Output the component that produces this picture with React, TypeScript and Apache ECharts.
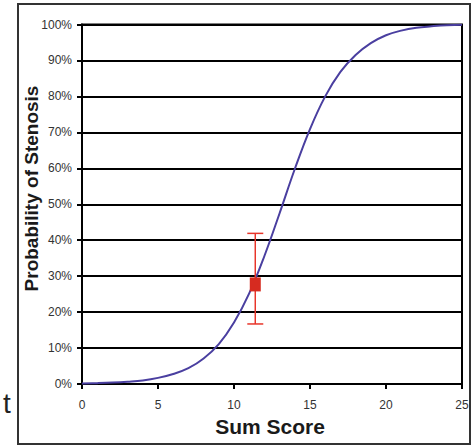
import React, { useEffect, useRef } from "react";
import * as echarts from "echarts";

// Sum score (x) and estimated probability of stenosis in % (y)
const sumScores = [0, 1, 2, 3, 4, 5, 6, 7, 8, 9, 10, 11, 12, 13, 14, 15, 16, 17, 18, 19, 20, 21, 22, 23, 24, 25];
const probability = [0.15, 0.24, 0.39, 0.64, 1.0, 1.7, 2.8, 4.4, 7.1, 11.1, 17.1, 25.2, 35.6, 47.5, 59.8, 70.9, 80.0, 86.8, 91.5, 94.8, 97.0, 98.3, 99.1, 99.5, 99.8, 99.9];

// Observed point with its error bar
const observedScore = [11.4];
const observedProb = [27.7];
const observedLow = [16.7];
const observedHigh = [41.9];

const xTicks = [0, 5, 10, 15, 20, 25];
const yTicks = [0, 10, 20, 30, 40, 50, 60, 70, 80, 90, 100];

const FONT = "'Liberation Sans', Arial, sans-serif";

export default function App() {
  const ref = useRef<HTMLDivElement>(null);

  useEffect(() => {
    if (!ref.current) return;
    const chart = echarts.init(ref.current, undefined, { renderer: "svg" });

    const curve = sumScores.map((x, i) => [x, probability[i]]);
    const point = observedScore.map((x, i) => [x, observedProb[i]]);
    const bars = observedScore.map((x, i) => [x, observedLow[i], observedHigh[i]]);

    chart.setOption({
      animation: false,
      backgroundColor: "#ffffff",
      grid: { left: 82, right: 12, top: 24.5, bottom: 63, show: true, borderColor: "#000", borderWidth: 2, backgroundColor: "transparent" },
      xAxis: {
        type: "value",
        min: xTicks[0],
        max: xTicks[xTicks.length - 1],
        interval: 5,
        axisLine: { show: true, lineStyle: { color: "#000", width: 2 } },
        axisTick: { show: true, inside: false, length: 5, lineStyle: { color: "#000", width: 2 } },
        axisLabel: { color: "#333", fontSize: 12, fontFamily: FONT, margin: 15 },
        splitLine: { show: false },
      },
      yAxis: {
        type: "value",
        min: yTicks[0],
        max: yTicks[yTicks.length - 1],
        interval: 10,
        axisLine: { show: true, lineStyle: { color: "#000", width: 2 } },
        axisTick: { show: true, inside: false, length: 5, lineStyle: { color: "#000", width: 2 } },
        axisLabel: { color: "#333", fontSize: 12, fontFamily: FONT, margin: 10, formatter: "{value}%" },
        splitLine: { show: true, lineStyle: { color: "#000", width: 2 } },
      },
      series: [
        {
          type: "line",
          data: curve,
          smooth: 0.4,
          showSymbol: false,
          lineStyle: { color: "#4a3fa0", width: 2 },
          z: 3,
        },
        {
          type: "custom",
          data: bars,
          z: 4,
          renderItem: (params: any, api: any) => {
            const x = api.value(0);
            const lo = api.coord([x, api.value(1)]);
            const hi = api.coord([x, api.value(2)]);
            const cap = 8;
            const style = { stroke: "#e8352a", lineWidth: 1.5 };
            return {
              type: "group",
              children: [
                { type: "line", shape: { x1: lo[0], y1: lo[1], x2: hi[0], y2: hi[1] }, style },
                { type: "line", shape: { x1: lo[0] - cap, y1: lo[1], x2: lo[0] + cap, y2: lo[1] }, style },
                { type: "line", shape: { x1: hi[0] - cap, y1: hi[1], x2: hi[0] + cap, y2: hi[1] }, style },
              ],
            };
          },
        },
        {
          type: "scatter",
          data: point,
          symbol: "rect",
          symbolSize: [11, 14],
          itemStyle: { color: "#d62b20", opacity: 1 },
          z: 5,
        },
      ],
      graphic: [
        {
          type: "rect",
          shape: { x: 18, y: 4, width: 452, height: 440 },
          style: { fill: "none", stroke: "#333", lineWidth: 2 },
          silent: true,
        },
        {
          type: "text",
          x: 270,
          y: 426,
          style: { text: "Sum Score", font: `bold 21px ${FONT}`, fill: "#1a1a1a", textAlign: "center", textVerticalAlign: "middle" },
        },
        {
          type: "text",
          x: 31,
          y: 188.5,
          rotation: Math.PI / 2,
          style: { text: "Probability of Stenosis", font: `bold 19px ${FONT}`, fill: "#1a1a1a", textAlign: "center", textVerticalAlign: "middle" },
        },
        {
          type: "text",
          x: 3,
          y: 403,
          style: { text: "t", font: `28px ${FONT}`, fill: "#222", textAlign: "left", textVerticalAlign: "middle" },
        },
      ],
    });

    return () => chart.dispose();
  }, []);

  return <div ref={ref} style={{ position: "fixed", left: 0, top: 0, width: 474, height: 447 }} />;
}
